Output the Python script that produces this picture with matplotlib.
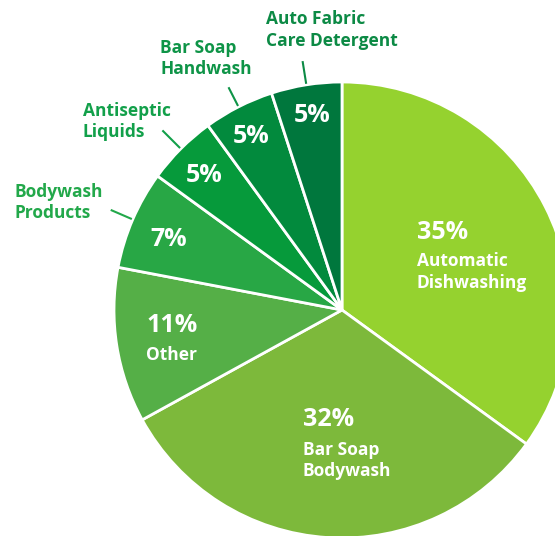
import matplotlib.pyplot as plt
import numpy as np

plt.rcParams['font.family'] = ['Open Sans', 'DejaVu Sans']

categorias = ["Automatic\nDishwashing", "Bar Soap\nBodywash", "Other",
              "Bodywash\nProducts", "Antiseptic\nLiquids", "Bar Soap\nHandwash",
              "Auto Fabric\nCare Detergent"]
valores = [35, 32, 11, 7, 5, 5, 5]
cores = ["#95D22F", "#7DB93B", "#55AF47", "#28A745", "#069A3B", "#028A3D", "#00773D"]
cores_texto = [None, None, None, "#22A84A", "#12A04A", "#0E9447", "#0C8A45"]

W, H = 555, 536
fig = plt.figure(figsize=(W / 100, H / 100), dpi=100)
ax = fig.add_axes([0, 0, 1, 1])

centro = (342, H - 310)
raio = 228
wedges, _ = ax.pie(valores, colors=cores, startangle=90, counterclock=False,
                   center=centro, radius=raio,
                   wedgeprops=dict(edgecolor="white", linewidth=2))

ax.set_xlim(0, W)
ax.set_ylim(0, H)
ax.set_aspect("equal")
ax.axis("off")


def px(y):
    return H - y


# rotulos dentro das fatias: (x esquerda, baseline do %, baselines do nome)
dentro = {
    0: (417, 239, [266, 288]),
    1: (303, 426, [455, 476]),
    2: (146, 332, [360]),
}
for i, (x, yb, linhas) in dentro.items():
    ax.text(x, px(yb), f"{valores[i]}%", color="white", fontsize=18,
            fontweight="bold", ha="left", va="baseline")
    for nome, yl in zip(categorias[i].split("\n"), linhas):
        ax.text(x, px(yl), nome, color="white", fontsize=12.5,
                fontweight="bold", ha="left", va="baseline")

# percentuais das fatias pequenas
pequenos = {3: (169, 246), 4: (204, 182), 5: (251, 143), 6: (312, 122)}
for i, (x, yb) in pequenos.items():
    ax.text(x, px(yb), f"{valores[i]}%", color="white", fontsize=18,
            fontweight="bold", ha="center", va="baseline")

# rotulos de fora com linha guia
fora = {
    3: (14, [197, 218], 24),
    4: (83, [116, 137], 26),
    5: (160, [53, 74], 22),
    6: (266, [24, 46], 24),
}
for i, (x, linhas, comp) in fora.items():
    w = wedges[i]
    ang = np.deg2rad((w.theta1 + w.theta2) / 2)
    x0 = centro[0] + (raio + 1) * np.cos(ang)
    y0 = centro[1] + (raio + 1) * np.sin(ang)
    x1 = centro[0] + (raio + comp) * np.cos(ang)
    y1 = centro[1] + (raio + comp) * np.sin(ang)
    ax.plot([x0, x1], [y0, y1], color=cores_texto[i], lw=1.5,
            solid_capstyle="butt")
    for nome, yl in zip(categorias[i].split("\n"), linhas):
        ax.text(x, px(yl), nome, color=cores_texto[i], fontsize=12.5,
                fontweight="bold", ha="left", va="baseline")

plt.savefig("out.png", dpi=100)
